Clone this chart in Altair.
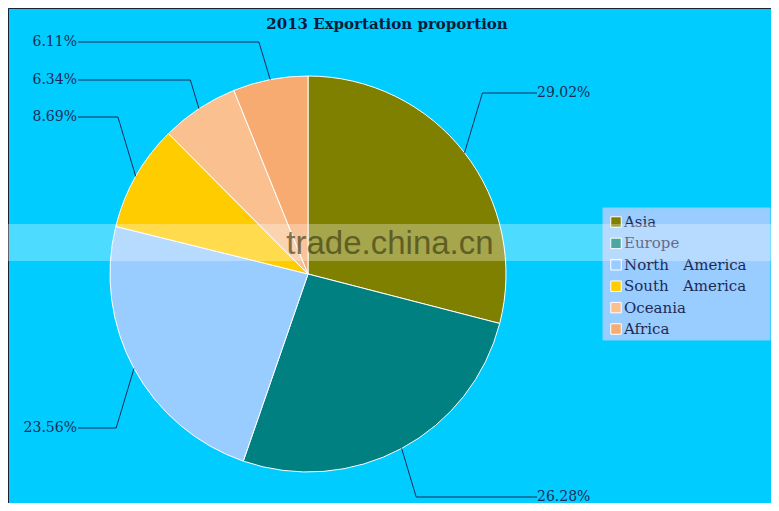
import math
import altair as alt
import pandas as pd

# ---- data ----
regions = ["Asia", "Europe", "North  America", "South  America", "Oceania", "Africa"]
shares = [29.02, 26.28, 23.56, 8.69, 6.34, 6.11]
pct_labels = ["29.02%", "26.28%", "23.56%", "8.69%", "6.34%", "6.11%"]
colors = ["#808000", "#008080", "#99CCFF", "#FFCC00", "#FBC08F", "#F7AB70"]
title_text = "2013 Exportation proportion"
watermark = "trade.china.cn"

# ---- layout (reference pixel space) ----
W, H = 763, 495
OFF = 8
CX, CY, R = 308, 274, 198
label_row_y = [93, 497, 428, 117, 80, 42]
RIGHT_X, LEFT_X = 537, 78

xs = alt.Scale(domain=[OFF, OFF + W], nice=False, zero=False)
ys = alt.Scale(domain=[OFF + H, OFF], nice=False, zero=False)


def X(field=None, datum=None):
    if datum is not None:
        return alt.X(datum=datum, type="quantitative", scale=xs, axis=None)
    return alt.X(field, type="quantitative", scale=xs, axis=None)


def Y(field=None, datum=None):
    if datum is not None:
        return alt.Y(datum=datum, type="quantitative", scale=ys, axis=None)
    return alt.Y(field, type="quantitative", scale=ys, axis=None)


cscale = alt.Scale(domain=regions, range=colors)

df = pd.DataFrame({"region": regions, "share": shares, "idx": list(range(len(regions)))})

pie = alt.Chart(df).mark_arc(radius=R, stroke="white", strokeWidth=1).encode(
    theta=alt.Theta("share:Q", stack=True),
    order=alt.Order("idx:Q"),
    color=alt.Color("region:N", scale=cscale, legend=None),
    x=X(datum=CX),
    y=Y(datum=CY),
)

# leader lines
total = sum(shares)
rows = []
txt = []
cum = 0.0
for i, (s, lab) in enumerate(zip(shares, pct_labels)):
    mid = (cum + s / 2) / total * 2 * math.pi
    cum += s
    ex = CX + R * math.sin(mid)
    ey = CY - R * math.cos(mid)
    side = 1 if math.sin(mid) > 0 else -1
    ly = label_row_y[i]
    bx = ex + side * 0.3 * abs(ly - ey)
    endx = RIGHT_X if side > 0 else LEFT_X
    rows += [
        {"lab": lab, "seq": 0, "x": ex, "y": ey},
        {"lab": lab, "seq": 1, "x": bx, "y": ly},
        {"lab": lab, "seq": 2, "x": endx, "y": ly},
    ]
    txt.append({"lab": lab, "x": endx if side > 0 else endx - 1, "y": ly, "side": side})
ldf = pd.DataFrame(rows)
tdf = pd.DataFrame(txt)

lines = alt.Chart(ldf).mark_line(color="#1E2A55", strokeWidth=1).encode(
    x=X("x"), y=Y("y"), detail="lab:N", order="seq:Q"
)

label_font = "DejaVu Serif"
rtext = alt.Chart(tdf).transform_filter("datum.side > 0").mark_text(
    align="left", baseline="middle", font=label_font, fontSize=14, color="#1E2A55"
).encode(x=X("x"), y=Y("y"), text="lab:N")
ltext = alt.Chart(tdf).transform_filter("datum.side < 0").mark_text(
    align="right", baseline="middle", font=label_font, fontSize=14, color="#1E2A55"
).encode(x=X("x"), y=Y("y"), text="lab:N")

# title
title = alt.Chart(pd.DataFrame({"t": [title_text]})).mark_text(
    align="center", baseline="middle", font=label_font, fontSize=15, fontWeight="bold", color="#0B1B3B"
).encode(x=X(datum=387), y=Y(datum=24), text="t:N")

# legend
leg_y0, leg_step = 222, 21.4
legdf = pd.DataFrame({
    "region": regions,
    "ly": [leg_y0 + leg_step * i for i in range(len(regions))],
})
legbox = alt.Chart(pd.DataFrame({"a": [0]})).mark_rect(fill="#99CCFF", stroke="#7FD4FF", strokeWidth=1).encode(
    x=X(datum=603), x2=alt.X2(datum=770), y=Y(datum=208), y2=alt.Y2(datum=340)
)
legsym = alt.Chart(legdf).mark_square(size=110, opacity=1, stroke="white", strokeWidth=1).encode(
    x=X(datum=616), y=Y("ly"), color=alt.Color("region:N", scale=cscale, legend=None)
)
legtxt = alt.Chart(legdf).transform_calculate(
    shown="replace(datum.region, '  ', '\u00a0\u00a0\u00a0')"
).mark_text(
    align="left", baseline="middle", font=label_font, fontSize=15, color="#1E2A55"
).encode(x=X(datum=624), y=Y("ly"), text="shown:N")

# watermark band
band = alt.Chart(pd.DataFrame({"a": [0]})).mark_rect(fill="white", opacity=0.3).encode(
    x=X(datum=OFF), x2=alt.X2(datum=OFF + W), y=Y(datum=224), y2=alt.Y2(datum=261)
)
wm = alt.Chart(pd.DataFrame({"t": [watermark]})).mark_text(
    align="center", baseline="middle", font="Liberation Sans", fontSize=33, color="#34340C", opacity=0.62
).encode(x=X(datum=390), y=Y(datum=244), text="t:N")

chart = alt.layer(pie, lines, rtext, ltext, title, legbox, legsym, legtxt, band, wm).properties(
    width=W, height=H, autosize=alt.AutoSizeParams(type="none"), padding=0,
    background="#00CCFF",
).configure_view(stroke="#1A2233", strokeWidth=1, fill="#00CCFF")

chart.save("out.html", embed_options={"renderer": "svg", "actions": False})
